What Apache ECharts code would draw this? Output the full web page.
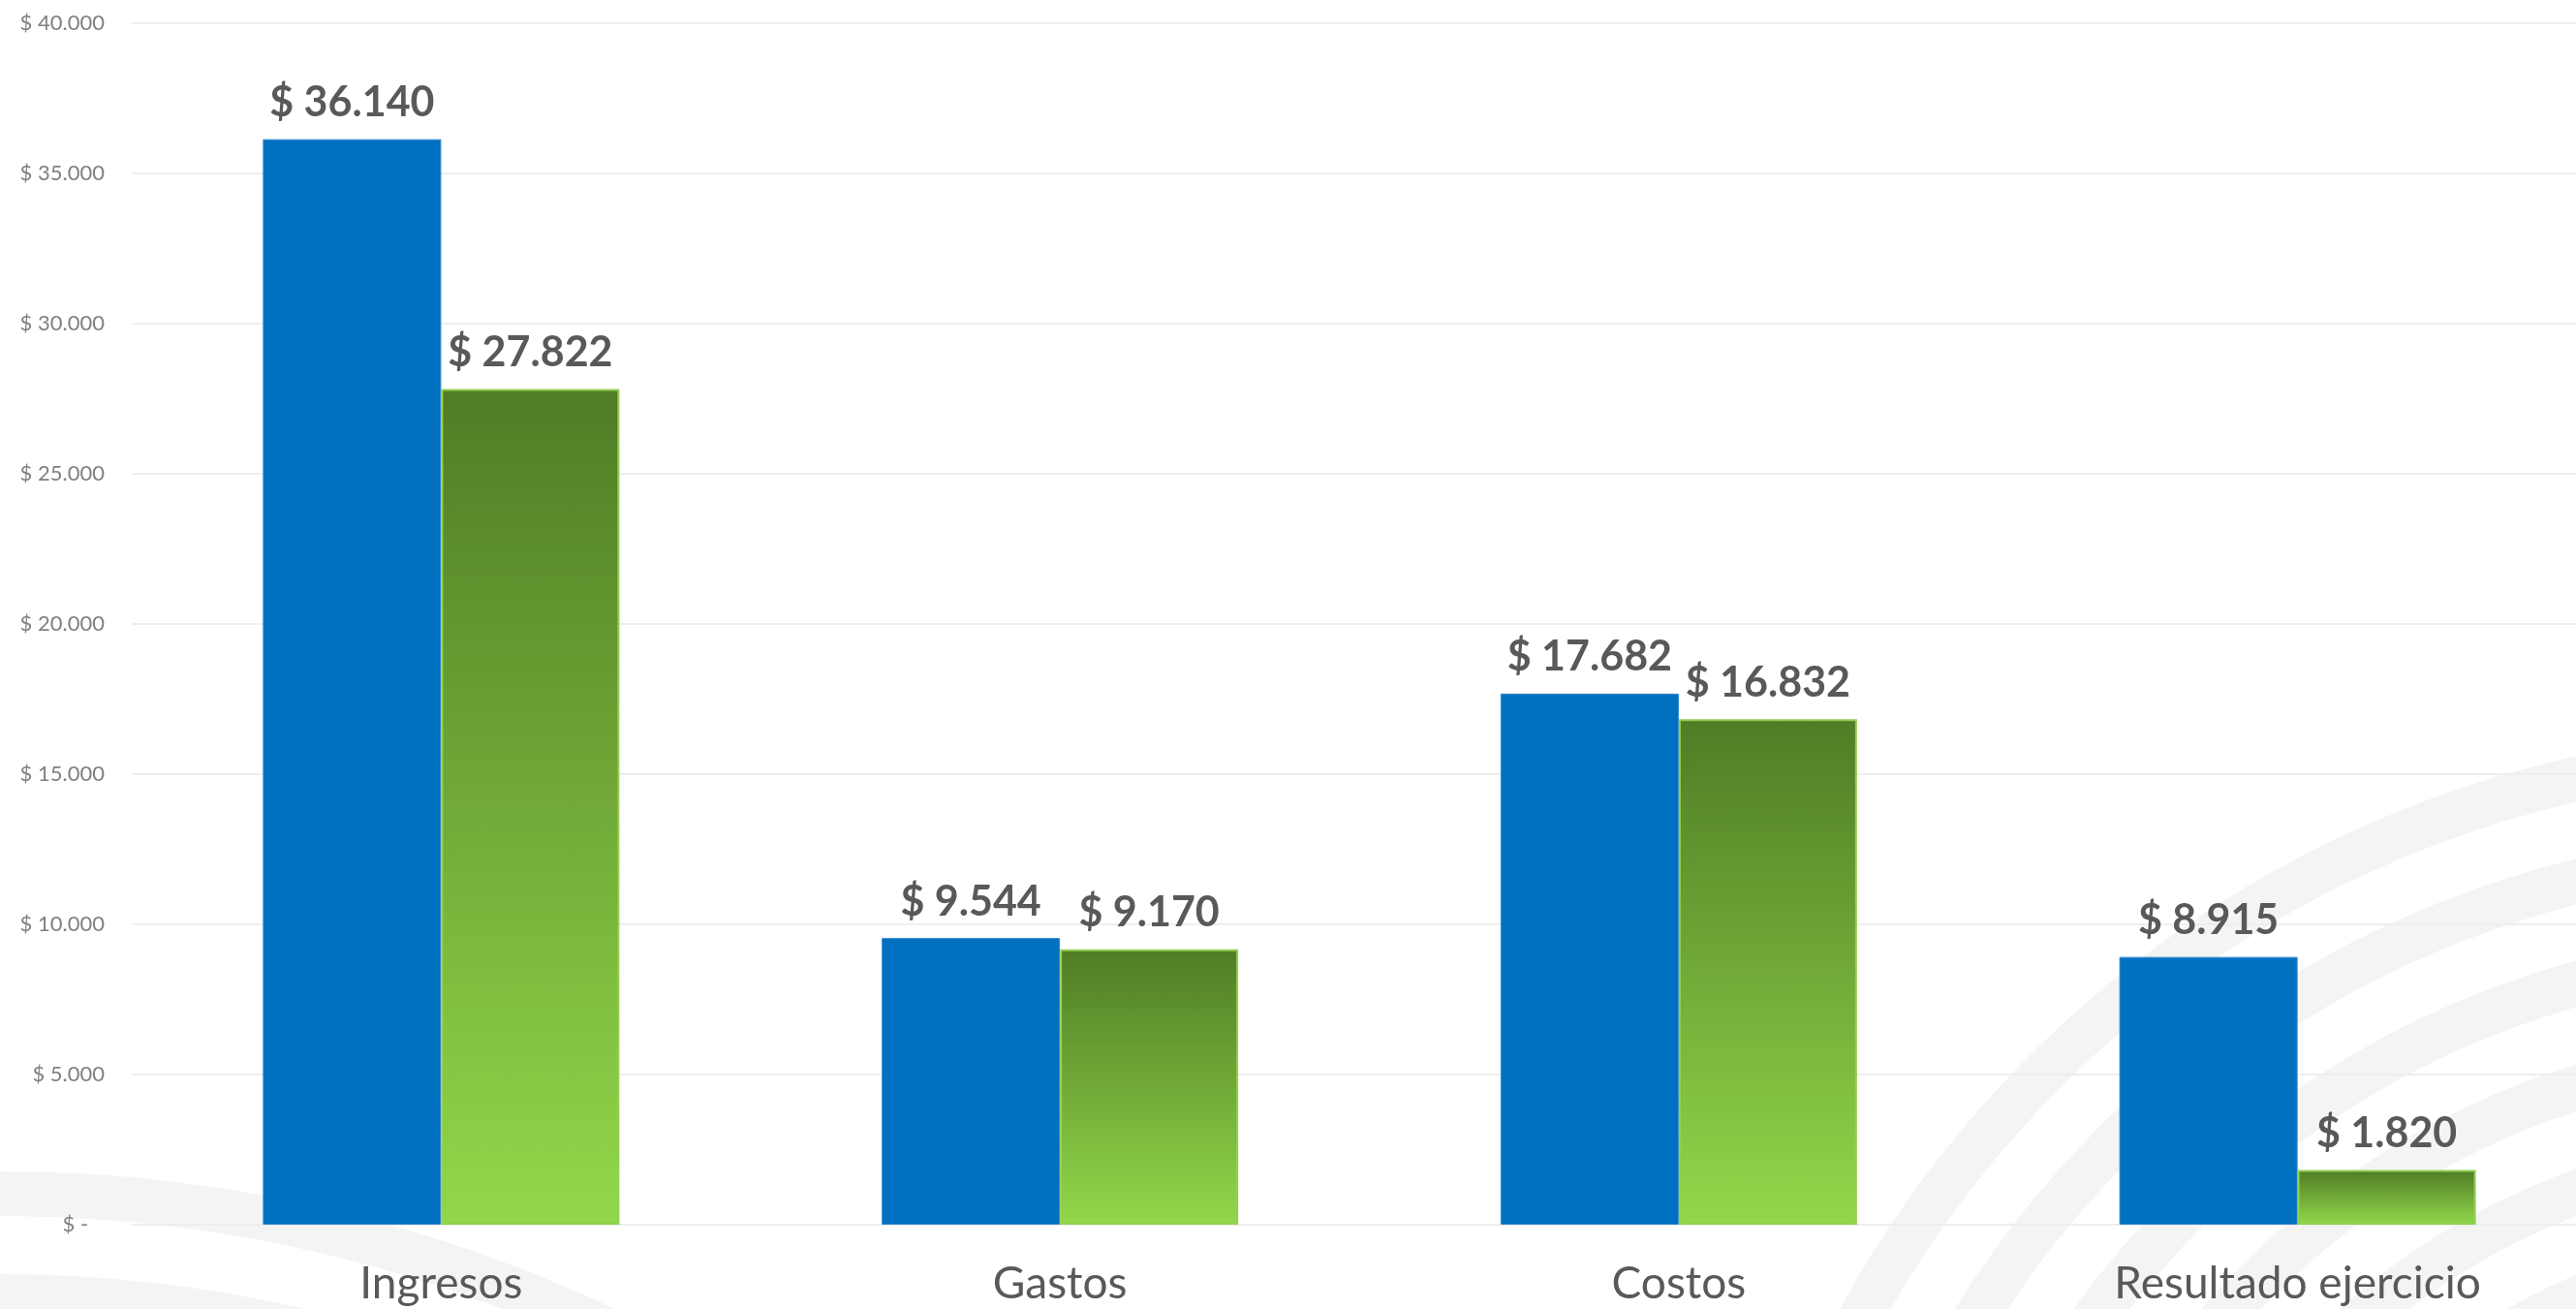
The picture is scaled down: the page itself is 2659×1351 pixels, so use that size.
<!DOCTYPE html>
<html>
<head>
<meta charset="utf-8">
<script src="https://cdn.jsdelivr.net/npm/echarts@6/dist/echarts.min.js"></script>
<style>
html,body{margin:0;padding:0;background:#ffffff;}
#chart{width:2659px;height:1351px;}
</style>
</head>
<body>
<div id="chart"></div>
<script>
// ---- data ----
var categories = ['Ingresos', 'Gastos', 'Costos', 'Resultado ejercicio'];
var serieAzul = [36140, 9544, 17682, 8915];
var serieVerde = [27822, 9170, 16832, 1820];
var yMin = 0, yMax = 40000, yInterval = 5000;

function miles(v) {
  return String(Math.round(v)).replace(/\B(?=(\d{3})+(?!\d))/g, '.');
}
function yLabel(v) {
  return v === 0 ? '$ -   ' : '$ ' + miles(v);
}

var chart = echarts.init(document.getElementById('chart'), null, {renderer: 'canvas'});

var band = '#f4f4f4';
var bgArcs = [];
// concentric decorative bands (bottom-right)
[1123, 1020, 918, 815, 713, 611].forEach(function (r) {
  bgArcs.push({
    type: 'circle', z: -10, silent: true,
    shape: {cx: 2905, cy: 1900, r: r},
    style: {fill: 'none', stroke: band, lineWidth: 46}
  });
});
// decorative bands (bottom-left)
[1468, 1362].forEach(function (r) {
  bgArcs.push({
    type: 'circle', z: -10, silent: true,
    shape: {cx: 0, cy: 2700, r: r},
    style: {fill: 'none', stroke: band, lineWidth: 46}
  });
});

var labelStyle = {
  show: true,
  position: 'top',
  distance: 16,
  fontFamily: 'Lato',
  fontWeight: 'bold',
  fontSize: 43,
  color: '#595959',
  formatter: function (p) { return '$ ' + miles(p.value); }
};

chart.setOption({
  backgroundColor: '#ffffff',
  animation: false,
  graphic: {elements: bgArcs},
  grid: {left: 136, top: 24, width: 2555, height: 1240, containLabel: false, outerBoundsMode: 'none'},
  xAxis: {
    type: 'category',
    data: categories,
    axisLine: {show: false},
    axisTick: {show: false},
    axisLabel: {
      fontFamily: 'Lato',
      fontSize: 46,
      color: '#595959',
      margin: 38
    },
    z: 5
  },
  yAxis: {
    type: 'value',
    min: yMin, max: yMax, interval: yInterval,
    axisLine: {show: false},
    axisTick: {show: false},
    axisLabel: {
      fontFamily: 'Lato',
      fontSize: 22,
      color: '#808080',
      margin: 28,
      formatter: yLabel
    },
    splitLine: {lineStyle: {color: '#eeeeee', width: 2}}
  },
  series: [
    {
      name: 'Serie 1',
      type: 'bar',
      data: serieAzul,
      barWidth: 184,
      barGap: '0%',
      itemStyle: {color: '#0070c0', borderColor: '#2f86cf', borderWidth: 1},
      label: labelStyle,
      z: 3
    },
    {
      name: 'Serie 2',
      type: 'bar',
      data: serieVerde,
      barWidth: 184,
      barGap: '0%',
      itemStyle: {
        color: new echarts.graphic.LinearGradient(0, 0, 0, 1, [
          {offset: 0, color: '#507c25'},
          {offset: 1, color: '#92d84a'}
        ]),
        borderColor: '#92d050',
        borderWidth: 2
      },
      label: labelStyle,
      z: 3
    }
  ]
});
</script>
</body>
</html>
